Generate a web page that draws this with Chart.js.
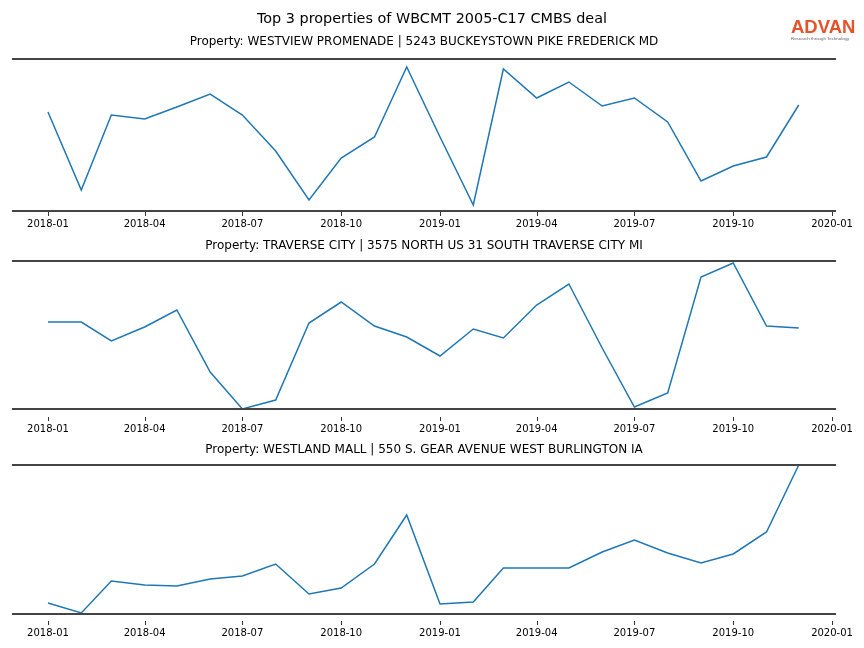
<!DOCTYPE html>
<html>
<head>
<meta charset="utf-8">
<script src="https://cdn.jsdelivr.net/npm/chart.js@4.4.1/dist/chart.umd.min.js"></script>
<style>
  body { margin: 0; background: #fff; }
  #wrap { position: relative; width: 864px; height: 648px; font-family: "DejaVu Sans", sans-serif; }
  .layer { position: absolute; left: 0; top: 0; width: 864px; height: 648px; }
  #title { position: absolute; left: 0; top: 10px; width: 864px; text-align: center; font-size: 14.4px; color: #000; }
  #logo { position: absolute; left: 791px; top: 17px; width: 70px; font-family: "Liberation Sans", sans-serif; }
  #logo .big { font-size: 18.5px; font-weight: bold; color: #e4532a; line-height: 19px; }
  #logo .small { font-size: 4.4px; color: #666; line-height: 5px; white-space: nowrap; }
</style>
</head>
<body>
<div id="wrap">
  <div class="layer"><canvas id="c1"></canvas></div>
  <div class="layer"><canvas id="c2"></canvas></div>
  <div class="layer"><canvas id="c3"></canvas></div>
  <div id="title">Top 3 properties of WBCMT 2005-C17 CMBS deal</div>
  <div id="logo"><div class="big">ADVAN</div><div class="small">Research through Technology</div></div>
</div>
<script>
const months = ['2018-01', '2018-02', '2018-03', '2018-04', '2018-05', '2018-06',
                '2018-07', '2018-08', '2018-09', '2018-10', '2018-11', '2018-12',
                '2019-01', '2019-02', '2019-03', '2019-04', '2019-05', '2019-06',
                '2019-07', '2019-08', '2019-09', '2019-10', '2019-11', '2019-12'];
const tickLabels = ['2018-01', '2018-04', '2018-07', '2018-10', '2019-01',
                    '2019-04', '2019-07', '2019-10', '2020-01'];

const titles = [
    'Property: WESTVIEW PROMENADE | 5243 BUCKEYSTOWN PIKE FREDERICK MD',
    'Property: TRAVERSE CITY | 3575 NORTH US 31 SOUTH TRAVERSE CITY MI',
    'Property: WESTLAND MALL | 550 S. GEAR AVENUE WEST BURLINGTON IA'
];

// visits per month (relative units, no y axis in the original)
const westview = [100, 22, 97, 93, 105, 118, 97, 61, 12, 54, 75, 145,
                  75, 7, 143, 114, 130, 106, 114, 90, 31, 46, 55, 107];
const traverse = [95, 95, 76, 90, 107, 45, 8, 17, 94, 115, 91, 80,
                  61, 88, 79, 112, 133, 69, 10, 24, 140, 154, 91, 89];
const westland = [18, 8, 40, 36, 35, 42, 45, 57, 27, 33, 57, 106,
                  17, 19, 53, 53, 53, 69, 81, 68, 58, 67, 89, 156];

// horizontal reference lines (low, high) and y limits per panel
const westviewLines = [1, 153];
const traverseLines = [8, 156];
const westlandLines = [7, 156];
const yMax = [153, 162, 164];

const base = Date.UTC(2018, 0, 1);
function dayOf(s) {
    return (Date.UTC(+s.slice(0, 4), +s.slice(5, 7) - 1, 1) - base) / 86400000;
}

const decor = {
    id: 'decor',
    afterDatasetsDraw(chart, args, opts) {
        const { ctx, chartArea: a, scales: { x, y } } = chart;
        ctx.save();
        ctx.strokeStyle = '#444';
        ctx.lineWidth = 2;
        opts.lines.forEach(v => {
            const py = y.getPixelForValue(v);
            ctx.beginPath();
            ctx.moveTo(a.left, py);
            ctx.lineTo(a.right, py);
            ctx.stroke();
        });
        ctx.strokeStyle = '#000';
        ctx.lineWidth = 0.8;
        x.ticks.forEach(t => {
            const px = Math.round(x.getPixelForValue(t.value)) + 0.5;
            ctx.beginPath();
            ctx.moveTo(px, a.bottom);
            ctx.lineTo(px, a.bottom + 4);
            ctx.stroke();
        });
        ctx.fillStyle = '#000';
        ctx.font = '12px "DejaVu Sans"';
        ctx.textAlign = 'center';
        ctx.textBaseline = 'middle';
        ctx.fillText(opts.title, (a.left + a.right) / 2, opts.titleY);
        ctx.restore();
    }
};

const panels = [
    { id: 'c1', data: westview, lines: westviewLines, top: 59, bottom: 212, titleY: 42 },
    { id: 'c2', data: traverse, lines: traverseLines, top: 255, bottom: 417, titleY: 246 },
    { id: 'c3', data: westland, lines: westlandLines, top: 457, bottom: 621, titleY: 450 }
];

panels.forEach((p, i) => {
    new Chart(document.getElementById(p.id), {
        type: 'line',
        data: {
            datasets: [{
                data: months.map((m, j) => ({ x: dayOf(m), y: p.data[j] })),
                borderColor: '#1f77b4',
                borderWidth: 1.5,
                pointRadius: 0,
                tension: 0,
                fill: false
            }]
        },
        options: {
            responsive: true,
            maintainAspectRatio: false,
            animation: false,
            events: [],
            layout: { padding: { left: 12, right: 28, top: p.top, bottom: 648 - p.bottom - 20 } },
            scales: {
                x: {
                    type: 'linear',
                    min: -33.5,
                    max: 733.7,
                    grid: { display: false, drawTicks: false },
                    border: { display: false },
                    afterBuildTicks: s => { s.ticks = tickLabels.map(t => ({ value: dayOf(t) })); },
                    afterFit: s => { s.height = 20; },
                    ticks: {
                        autoSkip: false,
                        maxRotation: 0,
                        padding: 6,
                        color: '#000',
                        font: { family: 'DejaVu Sans', size: 10 },
                        callback: v => {
                            const t = tickLabels.find(l => dayOf(l) === v);
                            return t || '';
                        }
                    }
                },
                y: { display: false, min: 0, max: yMax[i] }
            },
            plugins: {
                legend: { display: false },
                tooltip: { enabled: false },
                decor: { title: titles[i], lines: p.lines, titleY: p.titleY }
            }
        },
        plugins: [decor]
    });
});
</script>
</body>
</html>
